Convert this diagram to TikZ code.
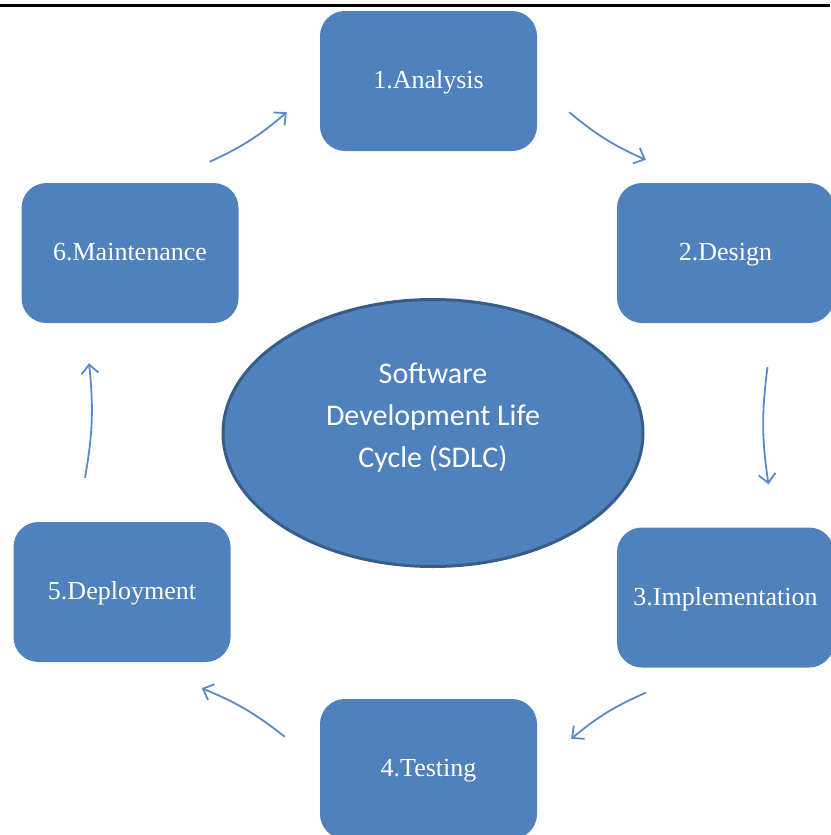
\documentclass[tikz,border=0pt]{standalone}
\usepackage{fontspec}
\setmainfont{Liberation Serif}
\newfontfamily\hubfont{Carlito}
\usetikzlibrary{shapes.geometric, arrows.meta}

\definecolor{boxblue}{HTML}{4F81BD}
\definecolor{rimblue}{HTML}{385D8A}
\definecolor{arrblue}{HTML}{5A8AC6}

\begin{document}
\begin{tikzpicture}[x=1pt, y=-1pt]

\tikzset{phase/.style = {shape=rectangle, rounded corners=25pt, fill=boxblue,
    minimum width=217pt, minimum height=140pt, text=white,
    font=\fontsize{26}{30}\selectfont, text height=19pt, text depth=4pt}}
\tikzset{hub/.style = {shape=ellipse, fill=boxblue, draw=rimblue, line width=3pt,
    minimum width=420pt, minimum height=267pt, inner sep=0pt, text=white,
    font=\hubfont\fontsize{30}{42}\selectfont}}
\tikzset{flow/.style = {draw=arrblue, line width=1.8pt,
    -{Straight Barb[length=9pt, width=17pt]}, bend right=8}}

\useasboundingbox (0,0) rectangle (830,835);
\fill[black] (0,4) rectangle (830,7);

%phases
\node[phase] (ana) at (428.5,81) {1.Analysis};
\node[phase] (des) at (725.5,253) {2.Design};
\node[phase] (imp) at (725.5,597.5) {3.Implementation};
\node[phase] (tes) at (428.5,769) {4.Testing};
\node[phase] (dep) at (122,592) {5.Deployment};
\node[phase] (mai) at (130,253) {6.Maintenance};
%center
\node[hub] (sdlc) at (433,433) {\raisebox{16pt}[\height][\depth]{%
    \begin{tabular}{@{}c@{}}Software\\Development Life\\Cycle (SDLC)\end{tabular}}};
%arrows
\draw[flow] ([shift={(-29,-21)}]mai.north east) to ([shift={(-33,-39)}]ana.south west);
\draw[flow] ([shift={(32,-39)}]ana.south east) to ([shift={(29,-23)}]des.north west);
\draw[flow] ([shift={(42,44)}]des.south) to ([shift={(43,-43)}]imp.north);
\draw[flow] ([shift={(29,25)}]imp.south west) to ([shift={(34,40)}]tes.north east);
\draw[flow] ([shift={(-35,38)}]tes.north west) to ([shift={(-29,26)}]dep.south east);
\draw[flow] ([shift={(-37,-44)}]dep.north) to ([shift={(-41,40)}]mai.south);

\end{tikzpicture}
\end{document}
